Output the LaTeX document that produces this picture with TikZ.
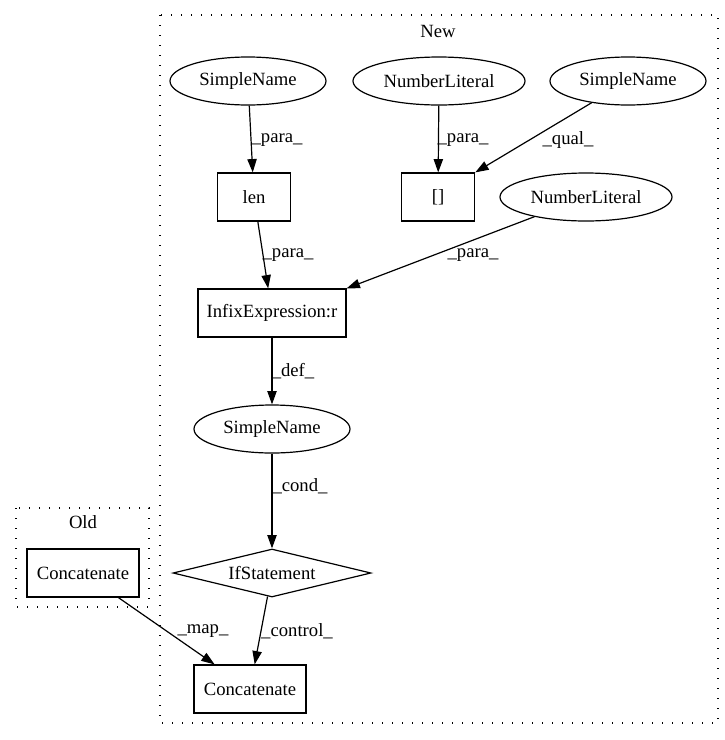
\documentclass[tikz,border=0pt]{standalone}
\usepackage{fontspec}
\setmainfont{Liberation Serif}
\usetikzlibrary{shapes.geometric,arrows.meta}
\begin{document}
\begin{tikzpicture}[x=0.75pt,y=-0.75pt,
  every node/.style={font=\fontsize{14pt}{16pt}\selectfont},
  ell/.style={draw,ellipse,line width=0.9pt,inner sep=0pt,minimum height=36pt},
  box/.style={draw,rectangle,line width=0.9pt,inner sep=0pt,minimum height=36pt},
  dia/.style={draw,diamond,aspect=4.1,line width=0.9pt,inner sep=0pt,minimum width=148.5pt,minimum height=36pt},
  edge/.style={draw,line width=0.9pt,-{Triangle[length=10pt,width=7pt]}},
  lbl/.style={inner sep=0pt,fill=none},
  clus/.style={draw,line width=0.9pt,dash pattern=on 1pt off 6.5pt}
]
\useasboundingbox (0,0) rectangle (725,740);
% clusters
\draw[clus] (160,15) rectangle (718,723);
\node[lbl] (newlbl) at (438,31) {New};
\draw[clus] (16,508) rectangle (149,607);
\node[lbl] (oldlbl) at (83,522) {Old};
% nodes
\node[ell,minimum width=117pt] (sn1) at (248,81) {SimpleName};
\node[ell,minimum width=129pt] (nl1) at (439,81) {NumberLiteral};
\node[ell,minimum width=117pt] (sn2) at (628,81) {SimpleName};
\node[box,minimum width=55pt] (len) at (254,197) {len};
\node[box,minimum width=55pt] (idx) at (438,197) {[]};
\node[ell,minimum width=129pt] (nl2) at (586,197) {NumberLiteral};
\node[box,minimum width=111pt] (infix) at (272,313) {InfixExpression:r};
\node[ell,minimum width=117pt] (sn3) at (272,429) {SimpleName};
\node[dia] (ifs) at (272,573) {IfStatement};
\node[box,minimum width=84pt] (cnew) at (250,689) {Concatenate};
\node[box,minimum width=84pt] (cold) at (83,573) {Concatenate};
% edges
\draw[edge] (sn1) -- (len);
\draw[edge] (nl1) -- (idx);
\draw[edge] (sn2) -- (idx.north east);
\draw[edge] (len) -- (infix);
\draw[edge] (nl2) -- (infix.north east);
\draw[edge] (infix) -- (sn3);
\draw[edge] (sn3) -- (ifs);
\draw[edge] (ifs) -- (cnew);
\draw[edge] (cold) -- (cnew);
% labels
\node[lbl] (l1) at (277,140) {\_para\_};
\node[lbl] (l2) at (463,140) {\_para\_};
\node[lbl] (l3) at (568,140) {\_qual\_};
\node[lbl] (l4) at (288,255) {\_para\_};
\node[lbl] (l5) at (473,255) {\_para\_};
\node[lbl] (l6) at (293,371) {\_def\_};
\node[lbl] (l7) at (300,486) {\_cond\_};
\node[lbl] (l8) at (203,631) {\_map\_};
\node[lbl] (l9) at (297,631) {\_control\_};
\end{tikzpicture}
\end{document}
